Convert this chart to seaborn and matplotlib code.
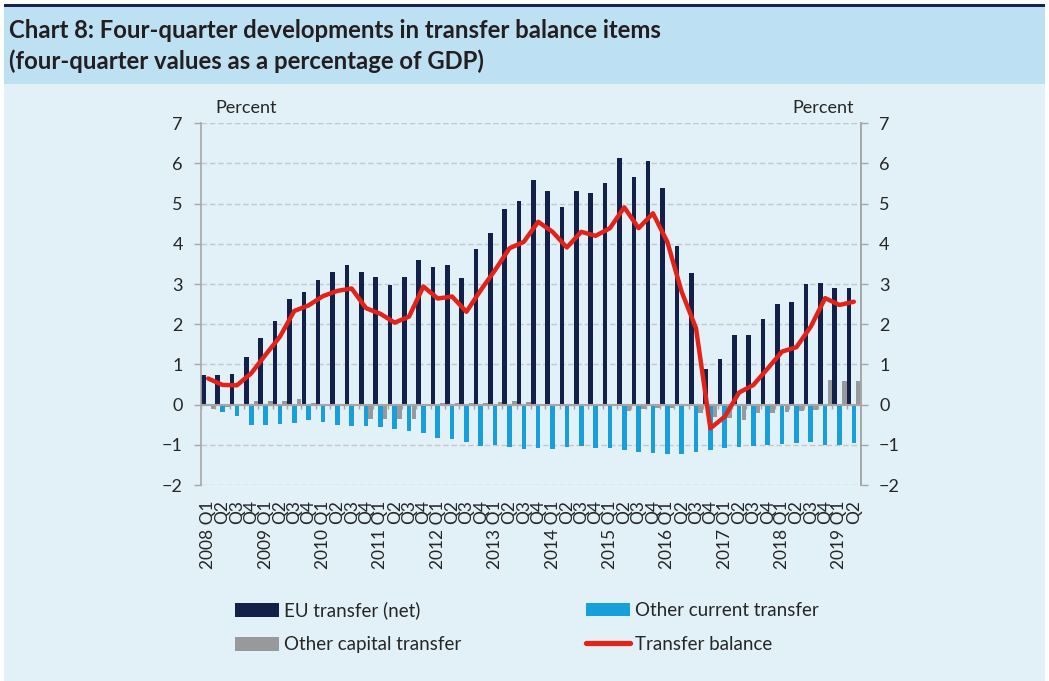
import numpy as np
import pandas as pd
import matplotlib
matplotlib.use("Agg")
import matplotlib.pyplot as plt
from matplotlib.patches import Rectangle, Patch
from matplotlib.lines import Line2D
import seaborn as sns

# Quarters 2008 Q1 .. 2019 Q2; tick labels only show the year on Q1
periods = [f"{yr} Q{q}" for yr in range(2008, 2020) for q in range(1, 5)][:46]
tick_labels = [p if p.endswith("Q1") else p.split()[1] for p in periods]

eu_transfer = [0.74, 0.73, 0.76, 1.18, 1.65, 2.08, 2.62, 2.80, 3.11, 3.29,
               3.47, 3.29, 3.18, 2.98, 3.18, 3.61, 3.42, 3.47, 3.16, 3.87,
               4.28, 4.86, 5.07, 5.59, 5.32, 4.92, 5.32, 5.27, 5.51, 6.14,
               5.66, 6.05, 5.38, 3.95, 3.28, 0.89, 1.14, 1.73, 1.74, 2.12,
               2.50, 2.55, 3.01, 3.03, 2.89, 2.91]
other_current = [-0.02, -0.19, -0.28, -0.50, -0.51, -0.49, -0.46, -0.38, -0.44, -0.51,
                 -0.52, -0.54, -0.55, -0.60, -0.66, -0.70, -0.84, -0.85, -0.92, -1.02,
                 -1.00, -1.06, -1.10, -1.09, -1.10, -1.06, -1.03, -1.07, -1.09, -1.12,
                 -1.17, -1.20, -1.22, -1.22, -1.19, -1.14, -1.07, -1.05, -1.04, -1.01,
                 -0.99, -0.95, -0.94, -1.00, -1.01, -0.96]
other_capital = [-0.11, -0.05, -0.01, 0.09, 0.09, 0.09, 0.15, 0.04, 0.02, 0.02,
                 -0.03, -0.37, -0.37, -0.37, -0.35, 0.02, 0.03, 0.03, 0.03, 0.05,
                 0.06, 0.08, 0.06, 0.02, 0.02, 0.01, 0.01, 0.01, 0.01, -0.15,
                 -0.11, -0.09, -0.09, 0.02, -0.20, -0.31, -0.34, -0.38, -0.22, -0.22,
                 -0.19, -0.17, -0.13, 0.61, 0.59, 0.59]
transfer_balance = [0.65, 0.49, 0.48, 0.78, 1.24, 1.69, 2.33, 2.47, 2.70, 2.83,
                    2.89, 2.40, 2.26, 2.04, 2.19, 2.94, 2.64, 2.69, 2.31, 2.85,
                    3.35, 3.89, 4.05, 4.55, 4.30, 3.91, 4.30, 4.20, 4.39, 4.91,
                    4.39, 4.76, 4.05, 2.81, 1.90, -0.59, -0.30, 0.30, 0.49, 0.90,
                    1.32, 1.43, 1.94, 2.65, 2.48, 2.56]

series_names = ["EU transfer (net)", "Other current transfer", "Other capital transfer"]
series_colors = ["#13204a", "#169fdb", "#98999b"]
line_name = "Transfer balance"
line_color = "#e2231a"

df = pd.DataFrame({
    "period": periods * 3,
    "series": [s for s in series_names for _ in periods],
    "value": eu_transfer + other_current + other_capital,
})

sns.set_theme(style="white")
plt.rcParams["font.family"] = ["Lato", "DejaVu Sans"]

text_color = "#262626"
axis_grey = "#a6a6a6"

fig = plt.figure(figsize=(10.49, 6.81), dpi=100)
fig.patch.set_facecolor("white")

# header band, top rule and body panel
W, H = 1049, 681
fig.patches.append(Rectangle((4 / W, 0), 1041 / W, 1 - 84 / H, transform=fig.transFigure,
                             facecolor="#e2f0f7", edgecolor="none", zorder=-3))
fig.patches.append(Rectangle((4 / W, 1 - 84 / H), 1041 / W, 77 / H, transform=fig.transFigure,
                             facecolor="#bde0f2", edgecolor="none", zorder=-3))
fig.patches.append(Rectangle((4 / W, 1 - 7 / H), 1041 / W, 2.5 / H, transform=fig.transFigure,
                             facecolor="#1b2150", edgecolor="none", zorder=-2))
fig.text(9 / W, 1 - 31 / H, "Chart 8: Four-quarter developments in transfer balance items",
         fontsize=17.2, fontweight="bold", color="#231f20", va="center", ha="left")
fig.text(9 / W, 1 - 61 / H, "(four-quarter values as a percentage of GDP)",
         fontsize=17.2, fontweight="bold", color="#231f20", va="center", ha="left")

ax = fig.add_axes([201 / W, 1 - 485 / H, 660 / W, (485 - 123.3) / H])
ax.set_facecolor("none")

sns.barplot(data=df, x="period", y="value", hue="series", hue_order=series_names,
            order=periods, palette=series_colors, width=1.0, gap=0.04, errorbar=None,
            saturation=1, linewidth=0, ax=ax, legend=False, zorder=2)

xpos = np.arange(len(periods))
sns.lineplot(x=xpos, y=transfer_balance, color=line_color, linewidth=3.2, ax=ax,
             zorder=4, sort=False)

ax.set_xlim(-0.5, len(periods) - 0.5)
ax.set_ylim(-2, 7)
ax.set_yticks(range(-2, 8))
ax.yaxis.grid(True, linestyle=(0, (4, 2)), color="#c4c8cc", linewidth=1)
ax.set_axisbelow(True)
ax.axhline(0, color=axis_grey, linewidth=1.5, zorder=3)
# category tick marks hanging from the zero line
ax.vlines(np.arange(len(periods) + 1) - 0.5, -0.12, 0, color=axis_grey, linewidth=1, zorder=3)

ax.set_xlabel("")
ax.set_ylabel("")
ax.set_xticks(xpos)
ax.set_xticklabels(tick_labels, rotation=90, ha="center", va="top")
ax.tick_params(axis="x", length=0, pad=11, labelsize=12.5, labelcolor=text_color)
ax.tick_params(axis="y", length=5, width=1, color=axis_grey, pad=8,
               labelsize=13, labelcolor=text_color, left=True)

for side in ["top", "bottom"]:
    ax.spines[side].set_visible(False)
for side in ["left", "right"]:
    ax.spines[side].set_visible(True)
    ax.spines[side].set_color(axis_grey)
    ax.spines[side].set_linewidth(1.2)

ax2 = ax.twinx()
ax2.set_ylim(ax.get_ylim())
ax2.set_yticks(range(-2, 8))
ax2.tick_params(axis="y", length=5, width=1, color=axis_grey, pad=8,
                labelsize=13, labelcolor=text_color, right=True)
for side in ["top", "bottom", "left"]:
    ax2.spines[side].set_visible(False)
ax2.spines["right"].set_color(axis_grey)
ax2.spines["right"].set_linewidth(1.2)

fig.text(215 / W, 1 - 108 / H, "Percent", fontsize=13, color=text_color, va="center", ha="left")
fig.text(854 / W, 1 - 108 / H, "Percent", fontsize=13, color=text_color, va="center", ha="right")

legend_kw = dict(ncol=1, frameon=False, fontsize=13.5, handlelength=2.35, handleheight=0.75,
                 handletextpad=0.28, labelspacing=0.9, labelcolor=text_color,
                 borderpad=0, borderaxespad=0, loc="center left")
left_handles = [
    Patch(facecolor=series_colors[0], edgecolor="none", label=series_names[0]),
    Patch(facecolor=series_colors[2], edgecolor="none", label=series_names[2]),
]
right_handles = [
    Patch(facecolor=series_colors[1], edgecolor="none", label=series_names[1]),
    Line2D([0], [0], color=line_color, linewidth=3.8, solid_capstyle="round", label=line_name),
]
fig.legend(handles=left_handles, bbox_to_anchor=(235 / W, 1 - 627.5 / H), **legend_kw)
fig.legend(handles=right_handles, bbox_to_anchor=(586 / W, 1 - 627.5 / H), **legend_kw)

fig.savefig("out.png", dpi=100)
